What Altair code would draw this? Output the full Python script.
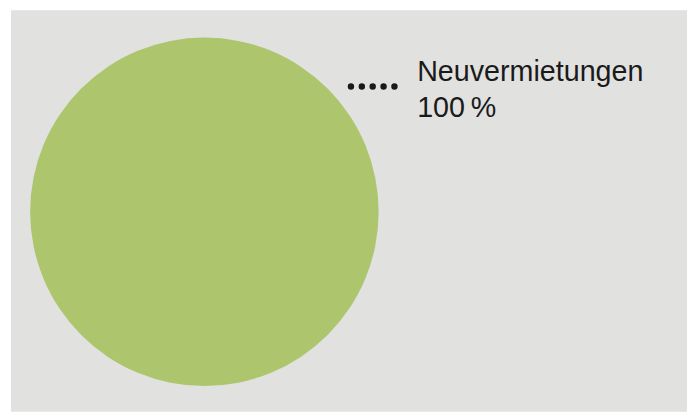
import altair as alt
import pandas as pd

categories = ["Neuvermietungen"]
values = [100]

total = sum(values)
labels = [[c, f"{round(v / total * 100)}\u202f%"] for c, v in zip(categories, values)]
df = pd.DataFrame({"category": categories, "value": values, "label": labels})

W, H = 687, 406

bg = alt.Chart(df).mark_rect(color="#e1e1e0").encode(
    x=alt.value(3), x2=alt.value(W), y=alt.value(0), y2=alt.value(H)
)

pie = alt.Chart(df).mark_arc(radius=176.3, stroke=None).encode(
    theta=alt.Theta("value:Q", stack=True),
    color=alt.Color("category:N", scale=alt.Scale(range=["#adc66e"]), legend=None),
    x=alt.value(198.7),
    y=alt.value(203.8),
)

leader = alt.Chart(df).mark_rule(
    color="#1a1a1a", strokeWidth=6.5, strokeDash=[0, 11], strokeCap="round"
).encode(x=alt.value(347), x2=alt.value(393), y=alt.value(77))

text = alt.Chart(df).mark_text(
    align="left", baseline="alphabetic", font="Liberation Sans", fontSize=29,
    lineHeight=37, color="#1a1a1a"
).encode(text="label", x=alt.value(414), y=alt.value(71))

chart = alt.layer(bg, pie, leader, text).properties(
    width=W, height=H, autosize=alt.AutoSizeParams(type="none"), padding=0,
    background="white"
).configure_view(stroke=None)

chart.save("out.html", embed_options={"renderer": "svg", "actions": False})
